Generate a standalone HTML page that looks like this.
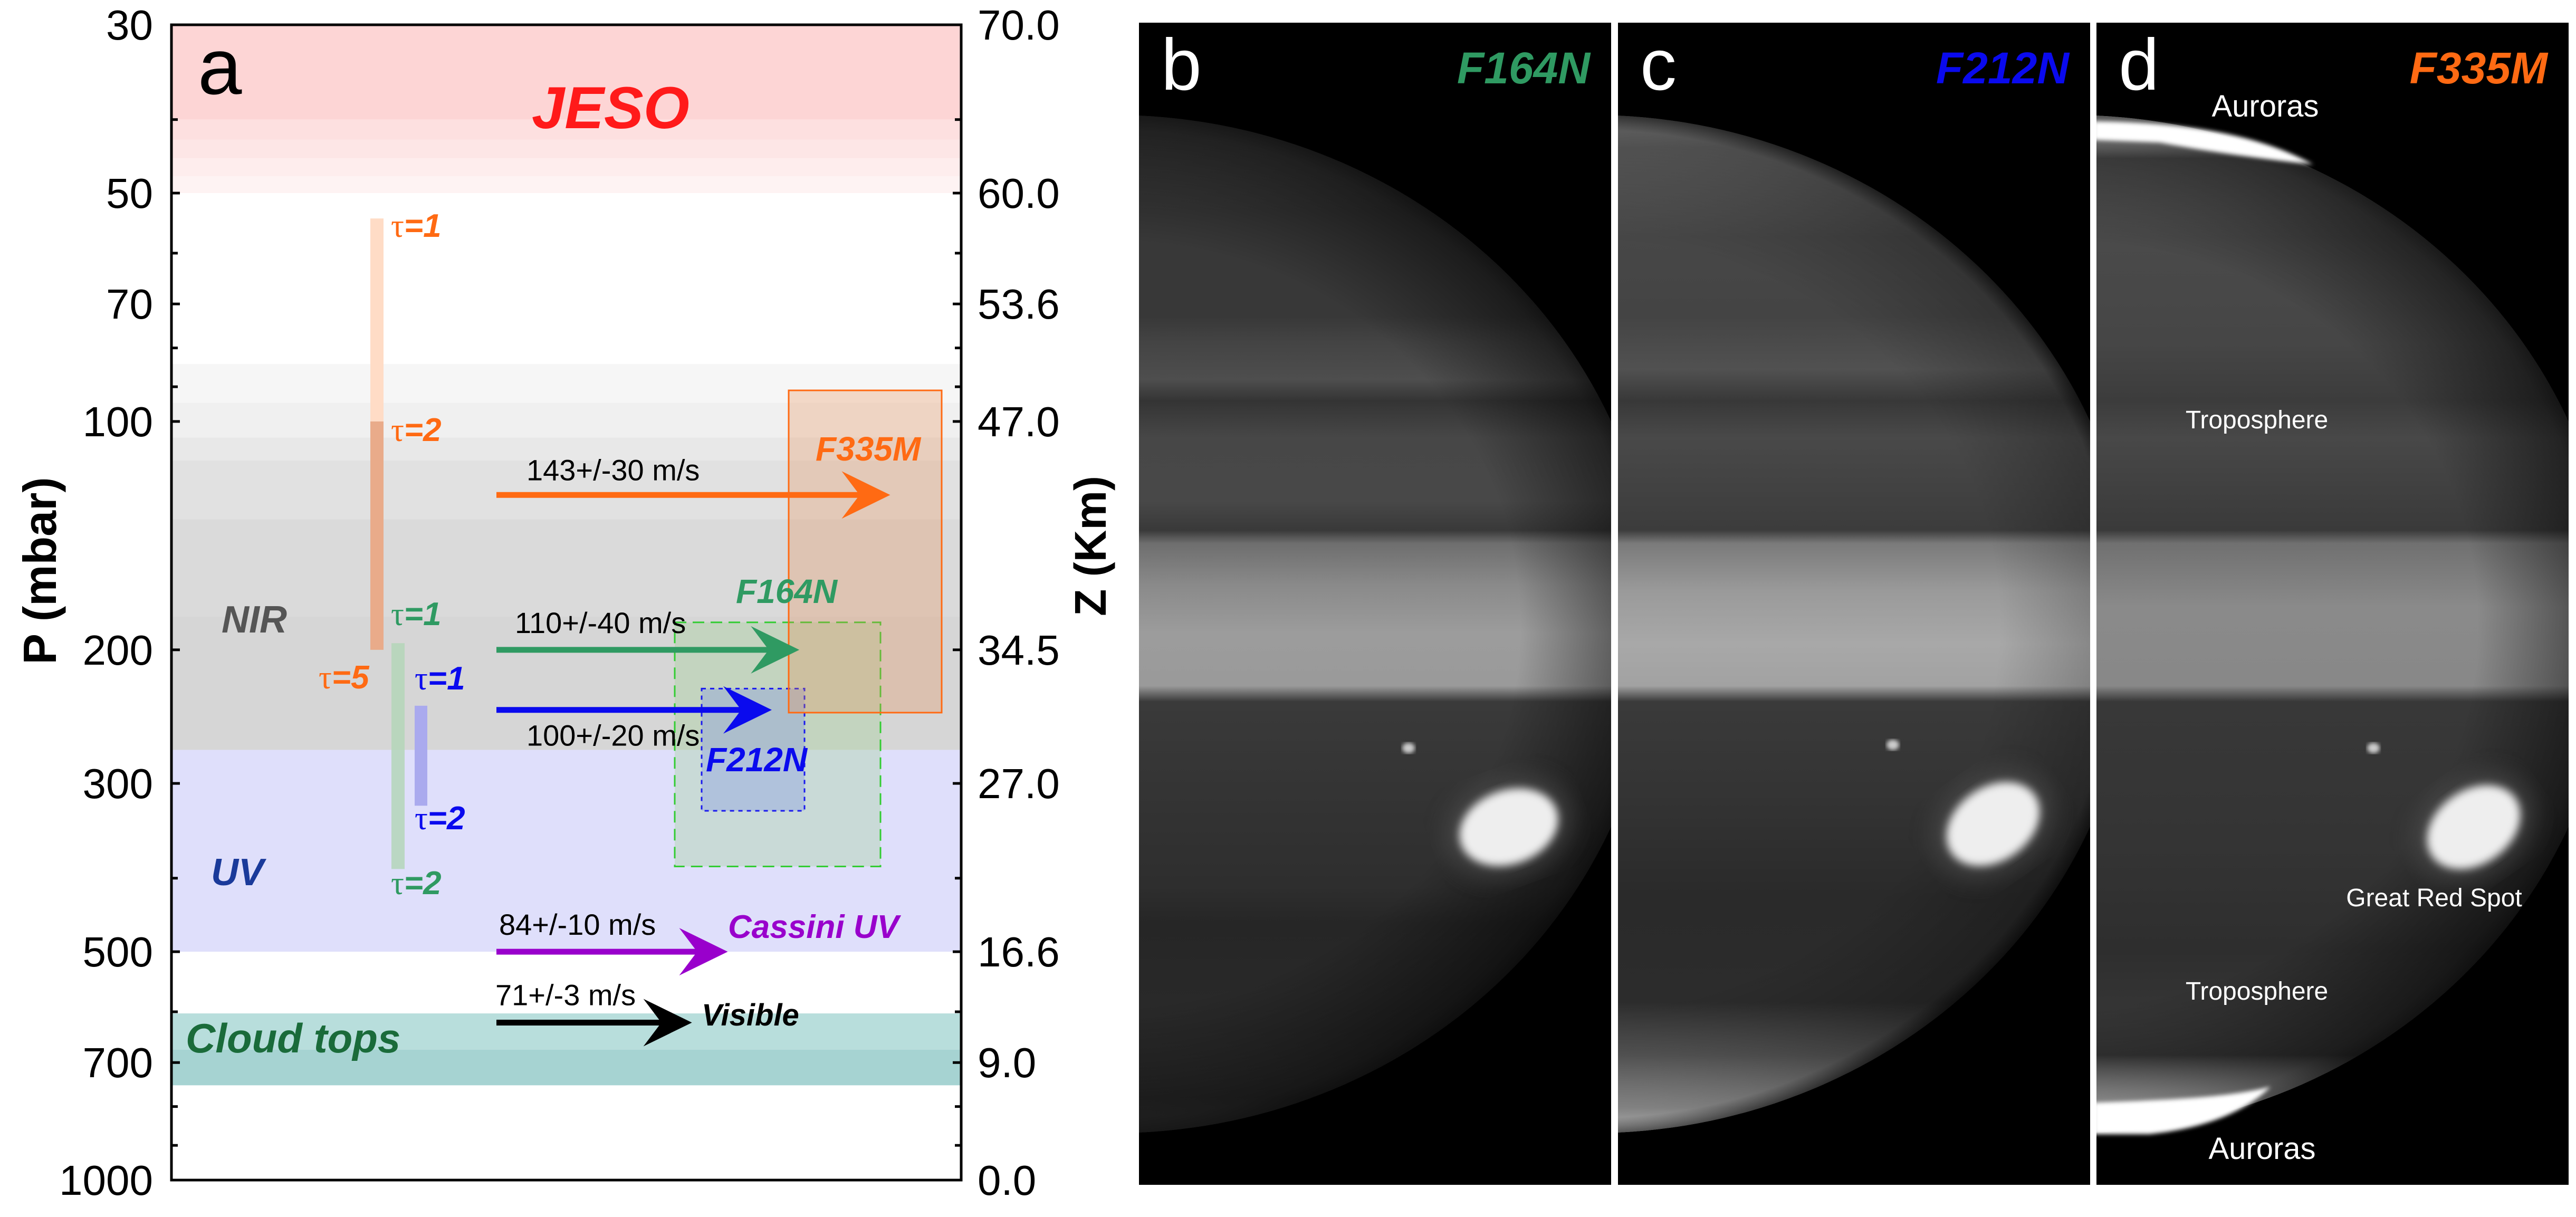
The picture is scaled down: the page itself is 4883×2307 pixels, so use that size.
<!DOCTYPE html>
<html><head><meta charset="utf-8"><style>
html,body{margin:0;padding:0;background:#fff;}
svg{display:block;}
text{font-family:"Liberation Sans",sans-serif;}
</style></head>
<body>
<svg id="fig" xmlns="http://www.w3.org/2000/svg" width="4883" height="2307" viewBox="0 0 4883 2307">
<defs>
  <filter id="blur8"><feGaussianBlur stdDeviation="8"/></filter>
  <filter id="blur20"><feGaussianBlur stdDeviation="20"/></filter>
  <filter id="blur4"><feGaussianBlur stdDeviation="4"/></filter>
</defs>
<g id="chart"></g>
<g id="panels"></g>
</svg>
<script>
// ---------- chart data ----------
const pTicksMajor = [30, 50, 70, 100, 200, 300, 500, 700, 1000];
const pTickLabels = ["30", "50", "70", "100", "200", "300", "500", "700", "1000"];
const zTickLabels = ["70.0", "60.0", "53.6", "47.0", "34.5", "27.0", "16.6", "9.0", "0.0"];
const pTicksMinor = [40, 60, 80, 90, 400, 600, 800, 900];
const jesoBounds = [30, 40, 42.5, 45, 47.5, 50];
const jesoColors = ["#fdd5d5", "#fde0e0", "#fde6e6", "#feeded", "#fef3f3"];
const nirBounds = [84, 94.5, 105, 112.6, 134.6, 181, 271];
const nirColors = ["#f6f6f6", "#f0f0f0", "#e8e8e8", "#e1e1e1", "#dadada", "#d6d6d6"];
const uvBand = [271, 500];
const cloudBounds = [603, 673, 750];
const cloudColors = ["#b8dedc", "#a6d3d2"];
const arrowP = [125, 200, 240, 500, 620];
const arrowSpeed = [143, 110, 100, 84, 71];
const arrowLabels = ["143+/-30 m/s", "110+/-40 m/s", "100+/-20 m/s", "84+/-10 m/s", "71+/-3 m/s"];
const arrowColors = ["#ff6a13", "#2f9a62", "#0a0aee", "#9900cc", "#000000"];
const arrowNames = ["arrow-f335m", "arrow-f164n", "arrow-f212n", "arrow-cassini-uv", "arrow-visible"];
const boxTop = [91, 184, 225];
const boxBottom = [242, 386, 326];
const boxNames = ["box-f335m", "box-f164n", "box-f212n"];
const tauTop = [54, 196, 237];
const tauMid = [100, 196, 237];
const tauBottom = [200, 389, 321];

// ---------- axis functions ----------
const plotL = 325, plotR = 1822, plotT = 47, plotB = 2237;
function yP(p){ return plotT + (plotB - plotT) * Math.log10(p / 30) / Math.log10(1000 / 30); }
const arrowX0 = 941, pxPerMs = 5.22;
function xSpeed(v){ return arrowX0 + v * pxPerMs; }

const NS = "http://www.w3.org/2000/svg";
function mk(tag, attrs, parent, txt){
  const e = document.createElementNS(NS, tag);
  for (const k in attrs) e.setAttribute(k, attrs[k]);
  if (txt !== undefined) e.textContent = txt;
  parent.appendChild(e);
  return e;
}
const chart = document.getElementById('chart');

for (let i = 0; i < jesoColors.length; i++) {
  const r = mk('rect', {x: plotL, y: yP(jesoBounds[i]), width: plotR - plotL, height: yP(jesoBounds[i+1]) - yP(jesoBounds[i]), fill: jesoColors[i]}, chart);
  
  
}
for (let i = 0; i < nirColors.length; i++) {
  const r = mk('rect', {x: plotL, y: yP(nirBounds[i]), width: plotR - plotL, height: yP(nirBounds[i+1]) - yP(nirBounds[i]), fill: nirColors[i]}, chart);
  
  
}
{
  const r = mk('rect', {x: plotL, y: yP(uvBand[0]), width: plotR - plotL, height: yP(uvBand[1]) - yP(uvBand[0]), fill: "#dfdffb"}, chart);
  
  
}
for (let i = 0; i < cloudColors.length; i++) {
  const r = mk('rect', {x: plotL, y: yP(cloudBounds[i]), width: plotR - plotL, height: yP(cloudBounds[i+1]) - yP(cloudBounds[i]), fill: cloudColors[i]}, chart);
  
  
}

const tauX = [[702, 727], [742, 767], [786, 810]];
{
  let r = mk('rect', {x: tauX[0][0], y: yP(tauTop[0]), width: 25, height: yP(tauMid[0]) - yP(tauTop[0]), fill: "#ffdcc6"}, chart);
  
  
  r = mk('rect', {x: tauX[0][0], y: yP(tauMid[0]), width: 25, height: yP(tauBottom[0]) - yP(tauMid[0]), fill: "#e9ab8a"}, chart);
  
  
  r = mk('rect', {x: tauX[1][0], y: yP(tauTop[1]), width: 25, height: yP(tauBottom[1]) - yP(tauTop[1]), fill: "#b4d6b8", opacity: 0.85}, chart);
  
  
  r = mk('rect', {x: tauX[2][0], y: yP(tauTop[2]), width: 24, height: yP(tauBottom[2]) - yP(tauTop[2]), fill: "#aaaaee"}, chart);
  
  
}

const boxX = [[1495, 1785], [1279, 1669], [1330, 1525]];
const boxFill = ["rgba(235,140,80,0.28)", "rgba(160,210,150,0.35)", "rgba(130,150,230,0.35)"];
const boxStroke = ["#ff6a13", "#33cc33", "#1a1aee"];
const boxDash = ["none", "22,12", "8,8"];
[1, 2, 0].forEach(i => {
  const r = mk('rect', {x: boxX[i][0], y: yP(boxTop[i]), width: boxX[i][1] - boxX[i][0], height: yP(boxBottom[i]) - yP(boxTop[i]), fill: boxFill[i], stroke: boxStroke[i], 'stroke-width': 3, 'stroke-dasharray': boxDash[i]}, chart);
  
  
});

for (let i = 0; i < arrowP.length; i++) {
  const y = yP(arrowP[i]), x1 = xSpeed(arrowSpeed[i]);
  const g = mk('g', {}, chart);
  
  
  mk('line', {x1: arrowX0, y1: y, x2: x1 - 40, y2: y, stroke: arrowColors[i], 'stroke-width': 11}, g);
  mk('polygon', {points: `${x1},${y} ${x1-92},${y-45} ${x1-58},${y} ${x1-92},${y+45}`, fill: arrowColors[i]}, g);
}
const arrowLabelX = [998, 976, 998, 946, 939];
const arrowLabelDy = [-28, -32, 68, -32, -33];
for (let i = 0; i < arrowP.length; i++) {
  const t = mk('text', {x: arrowLabelX[i], y: yP(arrowP[i]) + arrowLabelDy[i], 'font-size': 56, fill: "#000"}, chart, arrowLabels[i]);
  
  
}

{
  const r = mk('rect', {x: plotL, y: plotT, width: plotR - plotL, height: plotB - plotT, fill: "none", stroke: "#000", 'stroke-width': 5}, chart);
  
  
}
for (let i = 0; i < pTicksMajor.length; i++) {
  const y = yP(pTicksMajor[i]);
  mk('line', {x1: plotL, y1: y, x2: plotL + 16, y2: y, stroke: "#000", 'stroke-width': 5}, chart);
  mk('line', {x1: plotR, y1: y, x2: plotR - 16, y2: y, stroke: "#000", 'stroke-width': 5}, chart);
  const tl = mk('text', {x: 290, y: y + 28, 'font-size': 80, 'text-anchor': 'end', fill: "#000"}, chart, pTickLabels[i]);
  
  
  const tr = mk('text', {x: 1853, y: y + 28, 'font-size': 80, fill: "#000"}, chart, zTickLabels[i]);
  
  
}
for (const p of pTicksMinor) {
  const y = yP(p);
  mk('line', {x1: plotL, y1: y, x2: plotL + 12, y2: y, stroke: "#000", 'stroke-width': 5}, chart);
  mk('line', {x1: plotR, y1: y, x2: plotR - 12, y2: y, stroke: "#000", 'stroke-width': 5}, chart);
}
</script>

<script>
(function(){
const NS = "http://www.w3.org/2000/svg";
const chart = document.getElementById('chart');
function T(x, y, size, fill, txt, name, extra){
  const t = document.createElementNS(NS, 'text');
  t.setAttribute('x', x); t.setAttribute('y', y);
  t.setAttribute('font-size', size); t.setAttribute('fill', fill);
  if (extra) for (const k in extra) t.setAttribute(k, extra[k]);
  t.textContent = txt;
  
  
  chart.appendChild(t);
  return t;
}
const BI = {'font-weight': 'bold', 'font-style': 'italic'};
T(375, 178, 150, "#000", "a", "panel-label-a");
T(1008, 243, 112, "#ff1a1a", "JESO", "jeso-label", BI);
T(420, 1199, 72, "#555555", "NIR", "nir-label", BI);
T(400, 1678, 72, "#1a3a9a", "UV", "uv-label", BI);
T(352, 1995, 78, "#1a6b3a", "Cloud tops", "cloud-tops-label", BI);
T(1546, 873, 64, "#ff6a13", "F335M", "f335m-label", BI);
T(1395, 1143, 64, "#2f9a62", "F164N", "f164n-label", BI);
T(1338, 1462, 64, "#0a0aee", "F212N", "f212n-label", BI);
T(1380, 1778, 62, "#9900cc", "Cassini UV", "cassini-uv-label", BI);
T(1330, 1944, 58, "#000000", "Visible", "visible-label", BI);
function tau(x, y, col, n, name){
  const t = T(x, y, 62, col, "", name);
  const a = document.createElementNS(NS, 'tspan');
  a.setAttribute('font-family', '"Liberation Serif", serif'); a.textContent = "τ";
  const b = document.createElementNS(NS, 'tspan');
  b.setAttribute('font-weight', 'bold'); b.setAttribute('font-style', 'italic'); b.textContent = "=" + n;
  t.appendChild(a); t.appendChild(b);
}
tau(741, 449, "#ff6a13", 1, "tau-1-f335m");
tau(741, 836, "#ff6a13", 2, "tau-2-f335m");
tau(604, 1305, "#ff6a13", 5, "tau-5-f335m");
tau(741, 1185, "#2f9a62", 1, "tau-1-f164n");
tau(741, 1695, "#2f9a62", 2, "tau-2-f164n");
tau(786, 1307, "#0a0aee", 1, "tau-1-f212n");
tau(786, 1572, "#0a0aee", 2, "tau-2-f212n");
T(0, 0, 88, "#000", "P (mbar)", "y-left-axis-title", {'font-weight': 'bold', transform: 'translate(106,1082) rotate(-90)', 'text-anchor': 'middle'});
T(0, 0, 84, "#000", "Z (Km)", "y-right-axis-title", {'font-weight': 'bold', transform: 'translate(2096,1035) rotate(-90)', 'text-anchor': 'middle'});
})();
</script>

<script>
(function(){
const NS = "http://www.w3.org/2000/svg";
const root = document.getElementById('panels');
const defs = document.querySelector('defs');
function mk(tag, attrs, parent, txt){
  const e = document.createElementNS(NS, tag);
  for (const k in attrs) e.setAttribute(k, attrs[k]);
  if (txt !== undefined) e.textContent = txt;
  parent.appendChild(e); return e;
}
const panelX = [2159, 3067, 3974], panelW = 895, pTop = 43, pBot = 2246;
const bandsB = [[219,"#454545"],[400,"#383838"],[600,"#383838"],[650,"#444444"],[720,"#4e4e4e"],[760,"#343434"],[830,"#474747"],[950,"#484848"],[1005,"#393939"],[1030,"#6e6e6e"],[1110,"#8a8a8a"],[1200,"#9c9c9c"],[1300,"#9a9a9a"],[1330,"#3a3a3a"],[1500,"#343434"],[1680,"#2e2e2e"],[1750,"#262626"],[1950,"#2a2a2a"],[2080,"#303030"],[2145,"#444444"]];
const bandsC = [[219,"#8a8a8a"],[280,"#666666"],[450,"#474747"],[600,"#444444"],[700,"#515151"],[760,"#383838"],[830,"#494949"],[1005,"#3c3c3c"],[1030,"#7a7a7a"],[1120,"#9a9a9a"],[1220,"#a8a8a8"],[1300,"#a2a2a2"],[1330,"#3a3a3a"],[1500,"#343434"],[1700,"#2a2a2a"],[1900,"#2c2c2c"],[2000,"#5a5a5a"],[2100,"#a8a8a8"],[2145,"#f0f0f0"]];
const bandsD = [[219,"#f4f4f4"],[262,"#d0d0d0"],[300,"#5c5c5c"],[450,"#4a4a4a"],[650,"#464646"],[760,"#3c3c3c"],[830,"#484848"],[1005,"#3a3a3a"],[1030,"#707070"],[1150,"#8a8a8a"],[1300,"#888888"],[1330,"#383838"],[1600,"#343434"],[1800,"#2e2e2e"],[2000,"#3a3a3a"],[2080,"#d8d8d8"],[2145,"#ffffff"]];
const bandsAll = [bandsB, bandsC, bandsD];
const grs = [[2860,1568,-20],[3778,1562,-35],[4689,1568,-35]];
const labels = ["b","c","d"], filt = ["F164N","F212N","F335M"], filtCol = ["#2f9a62","#0a0aee","#ff6a13"];
for (let i = 0; i < 3; i++) {
  const x0 = panelX[i];
  const g = mk('g', {}, root);
  
  
  const cp = mk('clipPath', {id: 'clip' + i}, defs);
  mk('rect', {x: x0, y: pTop, width: panelW, height: pBot - pTop}, cp);
  const inner = mk('g', {'clip-path': `url(#clip${i})`}, g);
  mk('rect', {x: x0, y: pTop, width: panelW, height: pBot - pTop, fill: "#000"}, inner);
  const lg = mk('linearGradient', {id: 'band' + i, gradientUnits: 'userSpaceOnUse', x1: 0, y1: 219, x2: 0, y2: 2145}, defs);
  for (const [y, c] of bandsAll[i]) mk('stop', {offset: ((y - 219) / (2145 - 219)).toFixed(4), 'stop-color': c}, lg);
  const cx = x0 - 50, cy = 1183, rx = 1030, ry = 965;
  mk('ellipse', {cx, cy, rx, ry, fill: `url(#band${i})`}, inner);
  const rg = mk('radialGradient', {id: 'limb' + i, gradientUnits: 'userSpaceOnUse', cx, cy, r: 1030, gradientTransform: `translate(${cx},${cy}) scale(1,${ry/rx}) translate(${-cx},${-cy})`}, defs);
  mk('stop', {offset: 0.75, 'stop-color': '#000', 'stop-opacity': 0}, rg);
  mk('stop', {offset: 0.97, 'stop-color': '#000', 'stop-opacity': i === 1 ? 0.25 : 0.5}, rg);
  mk('stop', {offset: 1, 'stop-color': '#000', 'stop-opacity': 0.65}, rg);
  mk('ellipse', {cx, cy, rx, ry, fill: `url(#limb${i})`}, inner);
  const gx = grs[i][0], gy = grs[i][1];
  mk('ellipse', {cx: gx, cy: gy, rx: 125, ry: 95, fill: '#555', opacity: 0.5, filter: 'url(#blur20)', transform: `rotate(${grs[i][2]} ${gx} ${gy})`}, inner);
  const sp = mk('ellipse', {cx: gx, cy: gy, rx: 96, ry: 70, fill: '#eeeeee', filter: 'url(#blur8)', transform: `rotate(${grs[i][2]} ${gx} ${gy})`}, inner);
  
  
  mk('ellipse', {cx: gx - 190, cy: gy - 150, rx: 12, ry: 10, fill: '#cccccc', filter: 'url(#blur4)'}, inner);
  if (i === 2) {
    const a1 = mk('path', {d: `M${x0-5},230 C${x0+150},232 ${x0+300},250 ${x0+411},312 C${x0+300},300 ${x0+200},285 ${x0+120},270 L${x0-5},265 Z`, fill: '#ffffff', filter: 'url(#blur4)'}, inner);
    
    
    const a2 = mk('path', {d: `M${x0-5},2090 C${x0+150},2085 ${x0+250},2080 ${x0+330},2060 C${x0+280},2110 ${x0+200},2140 ${x0+100},2150 L${x0-5},2150 Z`, fill: '#ffffff', filter: 'url(#blur4)'}, inner);
    
    
  }
  let t = mk('text', {x: x0 + 42, y: 170, 'font-size': 138, fill: '#fff'}, g, labels[i]);
  
  
  t = mk('text', {x: x0 + panelW - 40, y: 158, 'font-size': 84, fill: filtCol[i], 'font-weight': 'bold', 'font-style': 'italic', 'text-anchor': 'end'}, g, filt[i]);
  
  
}
const ann = [["Auroras", 4294, 221], ["Troposphere", 4278, 812], ["Great Red Spot", 4614, 1718], ["Troposphere", 4278, 1895], ["Auroras", 4288, 2197]];
const annNames = ["aurora-label-top", "troposphere-label-top", "great-red-spot-label", "troposphere-label-bottom", "aurora-label-bottom"];
for (let k = 0; k < ann.length; k++) {
  const t = mk('text', {x: ann[k][1], y: ann[k][2], 'font-size': ann[k][0] === "Auroras" ? 58 : 48, fill: '#fff', 'text-anchor': 'middle'}, root, ann[k][0]);
  
  
}
})();
</script>
</body></html>
